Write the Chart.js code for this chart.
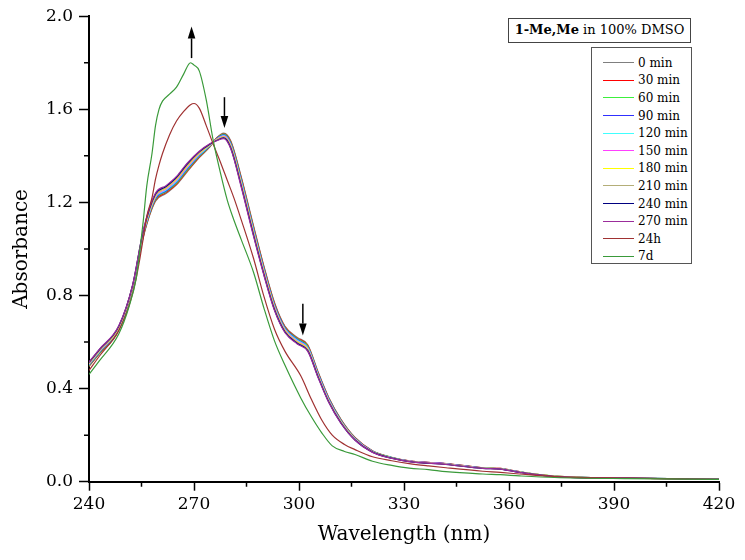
<!DOCTYPE html>
<html>
<head>
<meta charset="utf-8">
<script src="https://cdn.jsdelivr.net/npm/chart.js@4.4.1/dist/chart.umd.min.js"></script>
<style>
  html, body { margin: 0; padding: 0; background: #fff; }
  #wrap { position: relative; width: 745px; height: 560px; font-family: "DejaVu Serif", serif; }
  #title { position: absolute; left: 508px; top: 18px; width: 183px; height: 25px; box-sizing: border-box;
           border: 1.5px solid #444; font-size: 13px; line-height: 22px; text-align: center; background: #fff; color: #000; }
  #legend { position: absolute; left: 591px; top: 47px; width: 101px; height: 217px; box-sizing: border-box;
            border: 1.5px solid #555; background: #fff; padding-top: 6px; }
  .row { display: flex; align-items: center; height: 17.6px; font-size: 12px; color: #000; }
  .row .ln { display: inline-block; width: 31px; margin-left: 11px; margin-right: 4px; border-top: 1.5px solid; }
</style>
</head>
<body>
<div id="wrap">
  <canvas id="chart" width="745" height="560"></canvas>
  <div id="title"><b>1-Me,Me</b> in 100% DMSO</div>
  <div id="legend"></div>
</div>
<script>
// wavelength grid (nm) for the kinetic series 0-270 min
const wavelengths = [240, 243, 248.5, 252.5, 255.5, 259, 262, 265, 268, 271.5, 274.5, 276.5, 278.5, 280.5, 283.5, 287, 290, 293, 296, 299.5, 302.5, 305.5, 308.5, 312, 316, 321, 326.5, 331.5, 342, 352.5, 357.5, 363, 373, 394, 420];

const min0   = [0.495,0.550,0.650,0.835,1.050,1.205,1.238,1.275,1.330,1.392,1.438,1.478,1.498,1.465,1.310,1.100,0.925,0.770,0.668,0.620,0.588,0.470,0.362,0.268,0.190,0.133,0.105,0.090,0.078,0.060,0.057,0.043,0.024,0.016,0.011];
const min30  = [0.497,0.552,0.652,0.836,1.053,1.209,1.242,1.279,1.334,1.395,1.440,1.477,1.495,1.461,1.305,1.095,0.921,0.766,0.665,0.617,0.585,0.467,0.360,0.266,0.189,0.132,0.104,0.090,0.078,0.060,0.057,0.043,0.024,0.016,0.011];
const min60  = [0.499,0.554,0.654,0.838,1.057,1.213,1.246,1.283,1.338,1.398,1.441,1.475,1.493,1.457,1.300,1.090,0.916,0.762,0.662,0.614,0.582,0.464,0.357,0.264,0.187,0.131,0.104,0.089,0.077,0.059,0.056,0.042,0.024,0.016,0.011];
const min90  = [0.502,0.557,0.657,0.839,1.060,1.217,1.249,1.287,1.343,1.401,1.443,1.474,1.490,1.453,1.295,1.085,0.912,0.758,0.659,0.611,0.579,0.462,0.355,0.262,0.186,0.131,0.103,0.089,0.077,0.059,0.056,0.042,0.023,0.016,0.011];
const min120 = [0.504,0.559,0.659,0.841,1.063,1.221,1.253,1.291,1.347,1.404,1.444,1.472,1.487,1.449,1.290,1.080,0.907,0.754,0.656,0.608,0.576,0.459,0.352,0.260,0.185,0.130,0.103,0.088,0.076,0.059,0.056,0.042,0.023,0.016,0.011];
const min150 = [0.506,0.561,0.661,0.842,1.067,1.224,1.257,1.296,1.351,1.408,1.446,1.471,1.485,1.446,1.285,1.075,0.903,0.751,0.652,0.604,0.572,0.456,0.350,0.258,0.183,0.129,0.102,0.088,0.076,0.058,0.055,0.041,0.023,0.015,0.010];
const min180 = [0.508,0.563,0.663,0.844,1.070,1.228,1.261,1.300,1.355,1.411,1.447,1.469,1.482,1.442,1.280,1.070,0.898,0.747,0.649,0.601,0.569,0.453,0.347,0.256,0.182,0.128,0.102,0.087,0.075,0.058,0.055,0.041,0.023,0.015,0.010];
const min210 = [0.511,0.566,0.666,0.845,1.073,1.232,1.264,1.304,1.359,1.414,1.449,1.468,1.479,1.438,1.275,1.065,0.894,0.743,0.646,0.598,0.566,0.451,0.345,0.254,0.181,0.128,0.101,0.087,0.075,0.058,0.055,0.041,0.022,0.015,0.010];
const min240 = [0.513,0.568,0.668,0.847,1.077,1.236,1.268,1.308,1.364,1.417,1.450,1.466,1.477,1.434,1.270,1.060,0.889,0.739,0.643,0.595,0.563,0.448,0.342,0.252,0.179,0.127,0.101,0.086,0.074,0.057,0.054,0.040,0.022,0.015,0.010];
const min270 = [0.515,0.570,0.670,0.848,1.080,1.240,1.272,1.312,1.368,1.420,1.452,1.465,1.474,1.430,1.265,1.055,0.885,0.735,0.640,0.592,0.560,0.445,0.340,0.250,0.178,0.126,0.100,0.086,0.074,0.057,0.054,0.040,0.022,0.015,0.010];

// finer grid for the 24h and 7d spectra
const wavelengthsAged = [240, 243, 248.5, 251.5, 253.5, 254.5, 255.5, 256.5, 258, 259, 260, 261, 263, 265, 267, 269, 270, 271.5, 273.5, 275.5, 277.5, 279.5, 281.5, 283.5, 287, 290, 293, 296, 300.5, 303.5, 306.5, 309.5, 313, 316, 321, 326.5, 331.5, 337, 342, 352.5, 357.5, 363, 373, 394, 420];
const h24 = [0.478,0.540,0.650,0.760,0.875,0.955,1.045,1.140,1.220,1.300,1.360,1.410,1.490,1.550,1.590,1.620,1.625,1.605,1.530,1.450,1.375,1.295,1.215,1.125,0.960,0.795,0.655,0.560,0.455,0.355,0.265,0.200,0.160,0.138,0.107,0.090,0.078,0.068,0.060,0.045,0.040,0.033,0.022,0.015,0.010];
const d7  = [0.461,0.520,0.635,0.755,0.875,0.990,1.120,1.270,1.410,1.530,1.600,1.635,1.665,1.695,1.750,1.800,1.790,1.765,1.640,1.465,1.330,1.210,1.120,1.040,0.900,0.745,0.605,0.500,0.360,0.280,0.210,0.154,0.130,0.117,0.088,0.070,0.058,0.052,0.043,0.033,0.030,0.025,0.018,0.013,0.010];

const seriesLabels = ['0 min', '30 min', '60 min', '90 min', '120 min', '150 min', '180 min', '210 min', '240 min', '270 min', '24h', '7d'];
const seriesValues = [min0, min30, min60, min90, min120, min150, min180, min210, min240, min270, h24, d7];
const seriesColors = ['#7f7f7f', '#ff0000', '#3cf03c', '#3030ff', '#40ffff', '#ff40ff', '#ffff00', '#b4ae78', '#000080', '#9b2d9b', '#a03232', '#3a9a3a'];

const xTicks = { min: 240, max: 420, step: 30 };
const yTicks = { min: 0, max: 2.0, step: 0.4 };

// arrows showing the direction of change
const arrowMarks = [
  { at: 269.3, from: 1.82, to: 1.956 },
  { at: 278.7, from: 1.652, to: 1.52 },
  { at: 301.1, from: 0.765, to: 0.628 }
];

const fontFamily = '"DejaVu Serif", serif';

const datasets = seriesValues.map((vals, i) => {
  const grid = i >= 10 ? wavelengthsAged : wavelengths;
  return {
    label: seriesLabels[i],
    data: grid.map((w, j) => ({ x: w, y: vals[j] })),
    borderColor: seriesColors[i],
    backgroundColor: seriesColors[i],
    borderWidth: 1.2,
    pointRadius: 0,
    cubicInterpolationMode: 'monotone',
    fill: false,
    order: seriesLabels.length - i
  };
});

// legend as html
const legendBox = document.getElementById('legend');
seriesLabels.forEach((lab, i) => {
  const row = document.createElement('div');
  row.className = 'row';
  row.innerHTML = `<span class="ln" style="border-color:${seriesColors[i]}"></span><span>${lab}</span>`;
  legendBox.appendChild(row);
});

const minorTicks = {
  id: 'minorTicks',
  afterDraw(chart) {
    const ctx = chart.ctx;
    const { x, y } = chart.scales;
    ctx.save();
    ctx.strokeStyle = '#000';
    ctx.lineWidth = 1.5;
    ctx.beginPath();
    for (let i = 0; i < x.ticks.length - 1; i++) {
      const px = x.getPixelForValue((x.ticks[i].value + x.ticks[i + 1].value) / 2);
      ctx.moveTo(px, x.top);
      ctx.lineTo(px, x.top + 5);
    }
    for (let i = 0; i < y.ticks.length - 1; i++) {
      const py = y.getPixelForValue((y.ticks[i].value + y.ticks[i + 1].value) / 2);
      ctx.moveTo(y.right, py);
      ctx.lineTo(y.right - 5, py);
    }
    ctx.stroke();
    ctx.restore();
  }
};

const arrows = {
  id: 'arrows',
  afterDatasetsDraw(chart) {
    const ctx = chart.ctx;
    const { x, y } = chart.scales;
    ctx.save();
    ctx.strokeStyle = '#000';
    ctx.fillStyle = '#000';
    ctx.lineWidth = 1.5;
    arrowMarks.forEach(a => {
      const px = x.getPixelForValue(a.at);
      const y0 = y.getPixelForValue(a.from);
      const y1 = y.getPixelForValue(a.to);
      const dir = y1 < y0 ? 1 : -1;
      const head = 12;
      ctx.beginPath();
      ctx.moveTo(px, y0);
      ctx.lineTo(px, y1 + dir * head);
      ctx.stroke();
      ctx.beginPath();
      ctx.moveTo(px, y1);
      ctx.lineTo(px - 3.8, y1 + dir * head);
      ctx.lineTo(px + 3.8, y1 + dir * head);
      ctx.closePath();
      ctx.fill();
    });
    ctx.restore();
  }
};

new Chart(document.getElementById('chart'), {
  type: 'line',
  data: { datasets },
  plugins: [minorTicks, arrows],
  options: {
    responsive: false,
    animation: false,
    layout: { padding: { left: 0, right: 26, top: 15, bottom: 0 } },
    plugins: { legend: { display: false }, tooltip: { enabled: false } },
    scales: {
      x: {
        type: 'linear',
        min: xTicks.min,
        max: xTicks.max,
        ticks: { stepSize: xTicks.step, color: '#000', padding: 4, maxRotation: 0, font: { family: fontFamily, size: 17 } },
        grid: { drawOnChartArea: false, tickLength: 9, color: '#000', tickWidth: 1.5 },
        border: { color: '#000', width: 2 },
        title: { display: true, text: 'Wavelength (nm)', color: '#000', font: { family: fontFamily, size: 20 }, padding: { top: 0, bottom: 13 } },
        afterFit(s) { s.height = 78.3; }
      },
      y: {
        min: yTicks.min,
        max: yTicks.max,
        ticks: { stepSize: yTicks.step, color: '#000', padding: 6, font: { family: fontFamily, size: 17 }, callback: v => v.toFixed(1) },
        grid: { drawOnChartArea: false, tickLength: 10, color: '#000', tickWidth: 1.5 },
        border: { color: '#000', width: 2 },
        title: { display: true, text: 'Absorbance', color: '#000', font: { family: fontFamily, size: 20 }, padding: { top: 10, bottom: 0 } },
        afterFit(s) { s.width = 89; }
      }
    }
  }
});
</script>
</body>
</html>
